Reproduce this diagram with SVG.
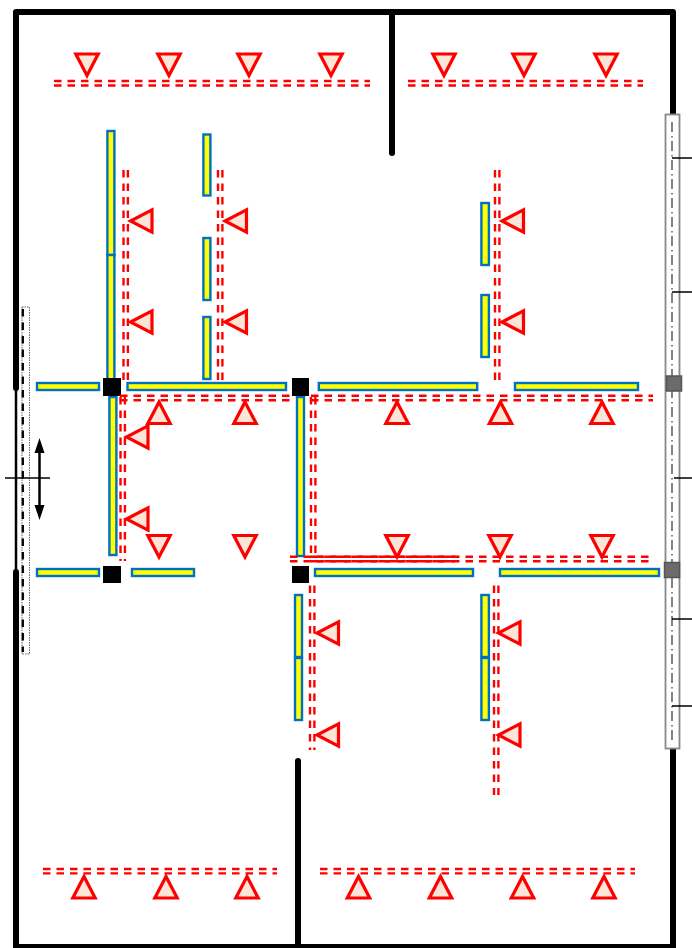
<svg xmlns="http://www.w3.org/2000/svg" xmlns:xlink="http://www.w3.org/1999/xlink" width="692" height="948" viewBox="0 0 692 948">
<style>
.wall{fill:none;stroke:#000;stroke-width:6;stroke-linejoin:round;stroke-linecap:round}
.thin{fill:none;stroke:#000;stroke-width:1.5}
.bar{fill:#ff0;stroke:#0070c0;stroke-width:2.4}
.col{fill:#000}
.gcol{fill:#6e6a6a;stroke:#555;stroke-width:1.5}
.rd{fill:none;stroke:#f00;stroke-width:2.4;stroke-dasharray:7.500 6}
.tri{fill:#fbe5d6;stroke:#f00;stroke-width:3.2}
.cl{stroke:#777;stroke-width:1.800;stroke-dasharray:10 4 1.500 3.500;fill:none}
</style>
<defs>
<polygon id="d" class="tri" points="-11.200,0 11.200,0 0,21.500"/>
<polygon id="u" class="tri" points="-11.200,0 11.200,0 0,-21.500"/>
<polygon id="l" class="tri" points="0,-11.200 0,11.200 -21.500,0"/>
</defs>
<g id="walls">
<path class="wall" d="M16 388V12H673V114"/>
<path class="wall" d="M16 572V947H673V749"/>
<path class="wall" d="M392 12V153"/>
<path class="wall" d="M298 761V947"/>
<path d="M16 388V572" fill="none" stroke="#000" stroke-width="2.500"/>
</g>
<g id="window-left">
<rect x="22" y="307" width="7.500" height="347" fill="#fff" stroke="#666" stroke-width="1" stroke-dasharray="1.500 1"/>
<path d="M22.800 309V652" stroke="#000" stroke-width="2.300" stroke-dasharray="7.500 6" fill="none"/>
<path class="thin" d="M5 478H50"/>
<path d="M39.500 450V508" stroke="#000" stroke-width="2.500"/>
<path d="M39.500 438L44.500 453H34.500zM39.500 520L44.500 505H34.500z"/>
</g>
<g id="window-right">
<rect x="665.500" y="114.500" width="14" height="634" fill="#fff" stroke="#888" stroke-width="1.800"/>
<path class="cl" d="M672 122V744"/>
<path class="thin" d="M672 158H692M672 292H692M674 478H692M672 619H692M672 706H692"/>
<rect class="gcol" x="666.500" y="376" width="15" height="15"/>
<rect class="gcol" x="664.500" y="562.500" width="15" height="15"/>
</g>
<g id="bars">
<rect class="bar" x="107.400" y="131" width="7" height="124"/>
<rect class="bar" x="107.400" y="255" width="7" height="125"/>
<rect class="bar" x="203.400" y="134.500" width="7" height="61"/>
<rect class="bar" x="203.400" y="238" width="7" height="62"/>
<rect class="bar" x="203.400" y="317" width="7" height="62"/>
<rect class="bar" x="481.400" y="203" width="7.500" height="62"/>
<rect class="bar" x="481.400" y="295" width="7.500" height="62"/>
<rect class="bar" x="109.400" y="397" width="7" height="158"/>
<rect class="bar" x="297" y="397" width="7" height="159"/>
<rect class="bar" x="295" y="595" width="7" height="62"/>
<rect class="bar" x="295" y="658" width="7" height="62"/>
<rect class="bar" x="481.400" y="595" width="7.500" height="62"/>
<rect class="bar" x="481.400" y="658" width="7.500" height="62"/>
<rect class="bar" x="37" y="383" width="62" height="7"/>
<rect class="bar" x="127.500" y="383" width="158.500" height="7"/>
<rect class="bar" x="318.800" y="383" width="158.400" height="7"/>
<rect class="bar" x="515" y="383" width="123" height="7"/>
<rect class="bar" x="37" y="569" width="62" height="7"/>
<rect class="bar" x="132" y="569" width="62" height="7"/>
<rect class="bar" x="315" y="569" width="158" height="7"/>
<rect class="bar" x="500" y="569" width="159" height="7"/>
</g>
<g id="columns">
<rect class="col" x="103" y="378" width="18" height="18"/>
<rect class="col" x="292" y="378" width="17" height="18"/>
<rect class="col" x="103" y="566" width="18" height="17"/>
<rect class="col" x="292" y="566" width="17" height="17"/>
</g>
<g id="connectors">
<path class="rd" d="M54 81H370M54 85.500H370M408 81H643M408 85.500H643"/>
<path class="rd" d="M123.500 170V380M127.900 170V380M218 170V380M222.400 170V380M495 170V380M499.400 170V380"/>
<path class="rd" d="M120 395.800H290M120 400.200H290M311 395.800H653M311 400.200H653"/>
<path class="rd" d="M120.500 397V561M124.900 397V561M311 397V556M315.400 397V556"/>
<path class="rd" d="M290 556.800H653M290 561.200H653"/>
<path d="M311 556.800H455M311 561.200H455" stroke="#f00" stroke-width="2.400" stroke-dasharray="11.500 2" fill="none"/>
<path class="rd" d="M310 585.500V750M314.400 585.500V750M494 585.500V795M498.400 585.500V795"/>
<path class="rd" d="M43 869H277M43 873.400H277M320 869H635M320 873.400H635"/>
</g>
<g id="sensors">
<use xlink:href="#d" x="87" y="54"/><use xlink:href="#d" x="169" y="54"/><use xlink:href="#d" x="249" y="54"/><use xlink:href="#d" x="331" y="54"/><use xlink:href="#d" x="444" y="54"/><use xlink:href="#d" x="524" y="54"/><use xlink:href="#d" x="606" y="54"/>
<use xlink:href="#l" x="152" y="221"/><use xlink:href="#l" x="152" y="322"/><use xlink:href="#l" x="246.500" y="221"/><use xlink:href="#l" x="246.500" y="322"/><use xlink:href="#l" x="523.500" y="221"/><use xlink:href="#l" x="523.500" y="322"/>
<use xlink:href="#l" x="148" y="437"/><use xlink:href="#l" x="148" y="519"/><use xlink:href="#l" x="338.500" y="633"/><use xlink:href="#l" x="338.500" y="735"/><use xlink:href="#l" x="520" y="633"/><use xlink:href="#l" x="520" y="735"/>
<use xlink:href="#u" x="159" y="423.500"/><use xlink:href="#u" x="245" y="423.500"/><use xlink:href="#u" x="397" y="423.500"/><use xlink:href="#u" x="500.500" y="423.500"/><use xlink:href="#u" x="602" y="423.500"/>
<use xlink:href="#d" x="159" y="535.500"/><use xlink:href="#d" x="245" y="535.500"/><use xlink:href="#d" x="397" y="535.500"/><use xlink:href="#d" x="500" y="535.500"/><use xlink:href="#d" x="602" y="535.500"/>
<use xlink:href="#u" x="84" y="898"/><use xlink:href="#u" x="166" y="898"/><use xlink:href="#u" x="247" y="898"/><use xlink:href="#u" x="358.500" y="898"/><use xlink:href="#u" x="440.500" y="898"/><use xlink:href="#u" x="522.500" y="898"/><use xlink:href="#u" x="604" y="898"/>
</g>
</svg>
